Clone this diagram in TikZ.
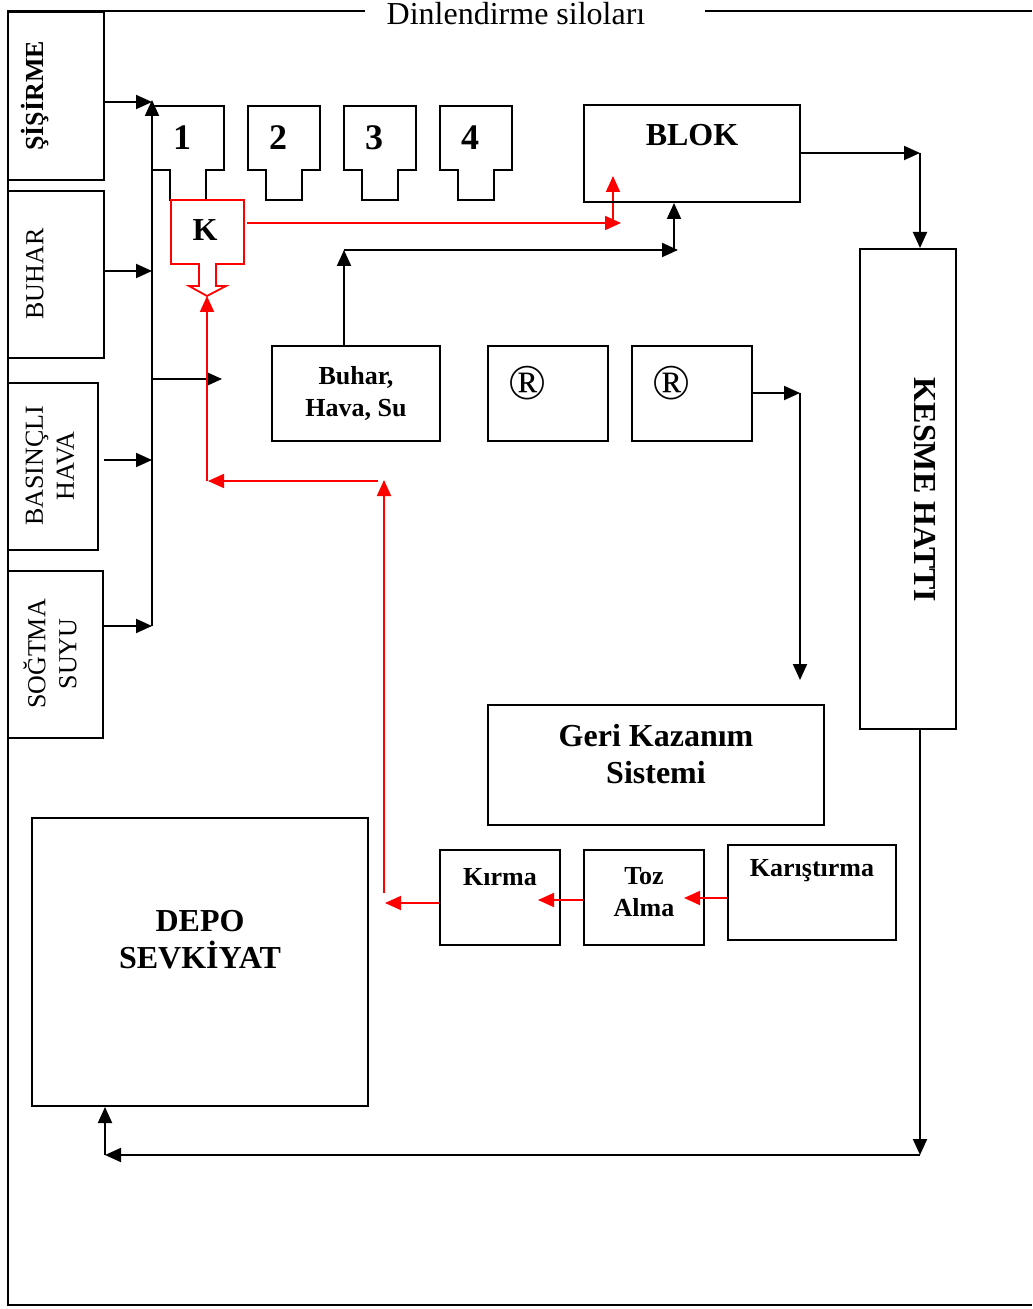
\documentclass[tikz,border=0pt]{standalone}
\usepackage{fontspec}
\setmainfont{Liberation Serif}
\usetikzlibrary{arrows.meta,positioning}

\begin{document}
\begin{tikzpicture}[x=0.5pt,y=-0.5pt,line width=1pt,>={Triangle[length=8pt,width=7pt]},
  box/.style={draw,rectangle,inner sep=0pt},
  sm/.style={font=\fontsize{13}{16}\selectfont\bfseries,align=center},
  big/.style={font=\fontsize{16}{18.5}\selectfont\bfseries,align=center},
  num/.style={font=\fontsize{18}{20}\selectfont\bfseries},
  side/.style={font=\fontsize{13}{15.5}\selectfont,align=center,rotate=90},
  reg/.style={font=\fontsize{25}{27}\selectfont},
  rd/.style={red,line width=0.9pt}]
\useasboundingbox (0,0) rectangle (1032,1309);
% frame and title
\node[font=\fontsize{16}{18}\selectfont] (title) at (516,14) {Dinlendirme siloları};
\draw (365,11) -- (8,11) -- (8,1305) -- (1032,1305);
\draw (705,11) -- (1032,11);
% left supply boxes
\node[box,minimum width=48pt,minimum height=84pt] (sis) at (56,96) {};
\node[box,minimum width=48pt,minimum height=83.5pt] (buh) at (56,274.5) {};
\node[box,minimum width=45pt,minimum height=83.5pt] (bas) at (53,466.5) {};
\node[box,minimum width=47.5pt,minimum height=83.5pt] (sog) at (55.5,654.5) {};
\node[side,font=\fontsize{13}{15.5}\selectfont\bfseries] (sistxt) at (35,96) {ŞİŞİRME};
\node[side] (buhtxt) at (35,274) {BUHAR};
\node[side] (bastxt) at (50,466) {BASINÇLI\\HAVA};
\node[side] (sogtxt) at (50,654) {SOĞTMA\\SUYU};
% collector line
\coordinate (bt) at (152,100);
\coordinate (bb) at (152,626);
\draw[->] (bb) -- (bt);
\draw[->] (sis.east |- 0,102) -- (bt |- 0,102);
\draw[->] (buh.east |- 0,271) -- (bt |- 0,271);
\draw[->] (104,460) -- (bt |- 0,460);
\draw[->] (sog.east |- bb) -- (bb);
\draw[->] (bt |- 0,379) -- (222,379);
% silos
\foreach \i in {1,...,4}{
  \pgfmathsetmacro\L{152+96*(\i-1)}
  \draw (\L,170) -- (\L,106) -- (\L+72,106) -- (\L+72,170) -- (\L+54,170) -- (\L+54,200) -- (\L+18,200) -- (\L+18,170) -- cycle;
  \node[num] (s\i) at (\L+30,138) {\i};
}
% K unit
\draw[rd] (199,264) -- (171,264) -- (171,200) -- (244,200) -- (244,264) -- (216,264) -- (216,286) -- (226,286) -- (207,296) -- (189,286) -- (199,286) -- cycle;
\node[big] (k) at (205,230) {K};
\coordinate (ktip) at (207,296);
\coordinate (kr) at (247,223);
\coordinate (rr) at (621,223);
\coordinate (ru) at (613,176);
\draw[rd,->] (kr) -- (rr);
\draw[rd,->] (ru |- kr) -- (ru);
% block and cutting line
\node[box,minimum width=108pt,minimum height=48.5pt] (blok) at (692,153.5) {};
\node[big] (bloktxt) at (692,135) {BLOK};
\node[box,sm,minimum width=84pt,minimum height=47.5pt] (bhs) at (356,393.5) {Buhar,\\Hava, Su};
\coordinate (bh1) at (344,250);
\coordinate (bh2) at (678,250);
\coordinate (bu) at (674,250);
\draw[->] (bh1 |- bhs.north) -- (bh1);
\draw[->] (bh1) -- (bh2);
\draw[->] (bu) -- (bu |- blok.south);
\node[box,minimum width=48pt,minimum height=240pt] (kes) at (908,489) {};
\node[big,rotate=-90] (kestxt) at (925,490) {KESME HATTI};
\coordinate (bk) at (920,153);
\draw[->] (blok.east |- bk) -- (bk);
\draw[->] (bk) -- (bk |- kes.north);
% storage
\node[box,minimum width=168pt,minimum height=144pt] (depo) at (200,962) {};
\node[big] (depotxt) at (200,940) {DEPO\\SEVKİYAT};
\coordinate (kb) at (920,1155);
\coordinate (dp) at (105,1155);
\draw[->] (kb |- kes.south) -- (kb);
\draw[->] (kb) -- (dp);
\draw[->] (dp) -- (dp |- depo.south);
% registered boxes
\node[box,minimum width=60pt,minimum height=47.5pt] (r1) at (548,393.5) {};
\node[box,minimum width=60pt,minimum height=47.5pt,right=11pt of r1] (r2) {};
\node[reg] (r1txt) at (527,383) {®};
\node[reg] (r2txt) at (671,383) {®};
\coordinate (rc) at (800,393);
\coordinate (rcd) at (800,680);
\draw[->] (r2.east |- rc) -- (rc);
\draw[->] (rc) -- (rcd);
% recovery
\node[box,minimum width=168pt,minimum height=60pt] (geri) at (656,765) {};
\node[big] (geritxt) at (656,754) {Geri Kazanım\\Sistemi};
\node[box,minimum width=60pt,minimum height=47.5pt] (kir) at (500,897.5) {};
\node[box,minimum width=60pt,minimum height=47.5pt,right=11pt of kir] (toz) {};
\node[box,minimum width=84pt,minimum height=47.5pt] (kar) at (812,892.5) {};
\node[sm] (kirtxt) at (500,877) {Kırma};
\node[sm] (toztxt) at (644,892) {Toz\\Alma};
\node[sm] (kartxt) at (812,871) {Karıştırma};
% red return line
\coordinate (kl) at (385,903);
\coordinate (ru2) at (384,480);
\coordinate (rl) at (208,481);
\draw[rd,->] (kar.west |- 0,898) -- (684,898);
\draw[rd,->] (toz.west |- 0,900) -- (538,900);
\draw[rd,->] (kir.west |- kl) -- (kl);
\draw[rd,->] (384,893) -- (ru2);
\draw[rd,->] (378,481) -- (rl);
\draw[rd,->] (ktip |- rl) -- (ktip);
\end{tikzpicture}
\end{document}
